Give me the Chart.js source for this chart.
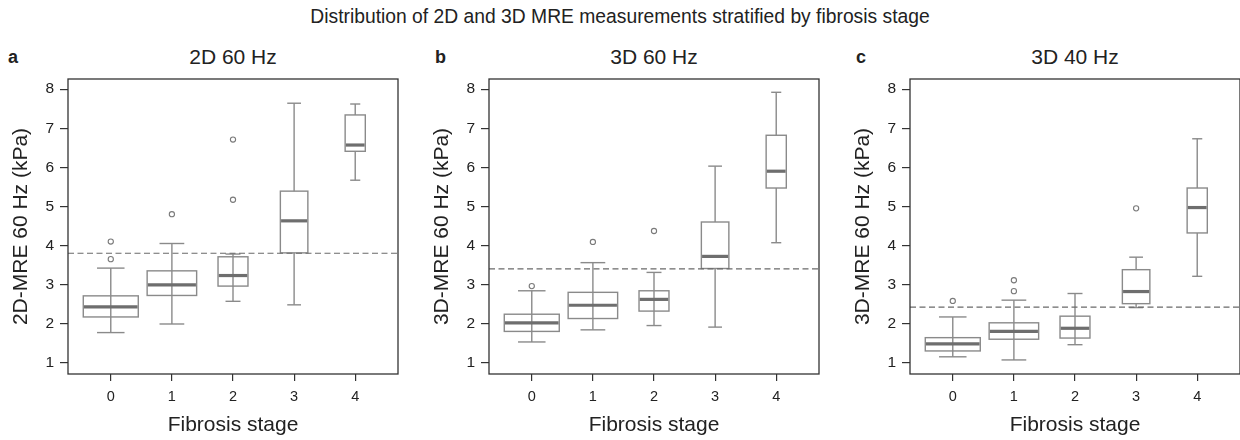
<!DOCTYPE html>
<html>
<head>
<meta charset="utf-8">
<script src="https://cdn.jsdelivr.net/npm/chart.js@4.4.1/dist/chart.umd.min.js"></script>
<style>
  html, body { margin:0; padding:0; width:1240px; height:440px; overflow:hidden; background:#fff;
    font-family:"Liberation Sans", Arial, Helvetica, sans-serif; color:#222; }
  #title { position:absolute; left:0; top:6px; width:1240px; text-align:center; font-size:19.3px; }
  .letter { position:absolute; top:47px; font-weight:bold; font-size:18px; }
  .ptitle { position:absolute; top:45px; width:330px; text-align:center; font-size:21px; }
  .wrap { position:absolute; top:40px; height:400px; }
</style>
</head>
<body>
<div id="title">Distribution of 2D and 3D MRE measurements stratified by fibrosis stage</div>
<div class="letter" style="left:8px">a</div>
<div class="letter" style="left:435px">b</div>
<div class="letter" style="left:856px">c</div>
<div class="ptitle" style="left:68px">2D 60 Hz</div>
<div class="ptitle" style="left:489px">3D 60 Hz</div>
<div class="ptitle" style="left:910px">3D 40 Hz</div>
<div class="wrap" style="left:0px"><canvas id="ca" width="420" height="400"></canvas></div>
<div class="wrap" style="left:421px"><canvas id="cb" width="420" height="400"></canvas></div>
<div class="wrap" style="left:842px"><canvas id="cc" width="420" height="400"></canvas></div>
<script>
// ---------- data ----------
const stages = ['0', '1', '2', '3', '4'];
const yTicks = [1, 2, 3, 4, 5, 6, 7, 8];

// Panel a: 2D 60 Hz
const a_min  = [1.77, 1.99, 2.57, 2.48, 5.67];
const a_q1   = [2.17, 2.72, 2.96, 3.81, 6.41];
const a_med  = [2.43, 2.99, 3.23, 4.63, 6.57];
const a_q3   = [2.71, 3.35, 3.71, 5.39, 7.34];
const a_max  = [3.42, 4.05, 3.78, 7.64, 7.62];
const a_out  = [[4.10, 3.65], [4.80], [6.71, 5.17], [], []];
const a_cut  = 3.8;

// Panel b: 3D 60 Hz
const b_min  = [1.53, 1.84, 1.95, 1.91, 4.07];
const b_q1   = [1.80, 2.13, 2.32, 3.41, 5.47];
const b_med  = [2.02, 2.47, 2.62, 3.72, 5.90];
const b_q3   = [2.24, 2.80, 2.84, 4.60, 6.82];
const b_max  = [2.84, 3.56, 3.31, 6.03, 7.92];
const b_out  = [[2.96], [4.09], [4.37], [], []];
const b_cut  = 3.4;

// Panel c: 3D 40 Hz
const c_min  = [1.15, 1.07, 1.46, 2.41, 3.21];
const c_q1   = [1.30, 1.60, 1.63, 2.51, 4.32];
const c_med  = [1.48, 1.80, 1.88, 2.82, 4.97];
const c_q3   = [1.64, 2.02, 2.19, 3.38, 5.47];
const c_max  = [2.17, 2.60, 2.77, 3.70, 6.73];
const c_out  = [[2.58], [3.11, 2.83], [], [4.95], []];
const c_cut  = 2.42;

// ---------- style ----------
const BOX_WIDTH = [0.9, 0.81, 0.49, 0.45, 0.33];     // in category units (varwidth)
const WHISKER_THROUGH = [true, true, true, false, false];
const X_MIN = -0.7, X_MAX = 4.7, Y_MIN = 0.71, Y_MAX = 8.26;
const FONT = '"Liberation Sans", Arial, Helvetica, sans-serif';
const TXT = '#222';
const BOX_COL = '#8a8a8a';
const MED_COL = '#6e6e6e';

function boxPlugin(p) {
  return {
    id: 'boxes',
    beforeDatasetsDraw(chart) {
      const { ctx, scales: { x, y }, chartArea } = chart;
      const unit = x.getPixelForValue(1) - x.getPixelForValue(0);
      ctx.save();
      ctx.beginPath();
      ctx.rect(chartArea.left, chartArea.top, chartArea.right - chartArea.left, chartArea.bottom - chartArea.top);
      ctx.clip();
      const line = (x1, y1, x2, y2) => { ctx.beginPath(); ctx.moveTo(x1, y1); ctx.lineTo(x2, y2); ctx.stroke(); };
      for (let i = 0; i < p.med.length; i++) {
        const cx = x.getPixelForValue(i);
        const hw = BOX_WIDTH[i] * unit / 2;
        const cw = hw * 0.5;
        const yMin = y.getPixelForValue(p.min[i]);
        const yQ1 = y.getPixelForValue(p.q1[i]);
        const yMed = y.getPixelForValue(p.med[i]);
        const yQ3 = y.getPixelForValue(p.q3[i]);
        const yMax = y.getPixelForValue(p.max[i]);
        ctx.strokeStyle = BOX_COL;
        ctx.lineWidth = 1.4;
        line(cx, yQ3, cx, yMax);
        line(cx, yQ1, cx, yMin);
        if (WHISKER_THROUGH[i]) line(cx, yQ3, cx, yQ1);
        line(cx - cw, yMax, cx + cw, yMax);
        line(cx - cw, yMin, cx + cw, yMin);
        ctx.strokeRect(cx - hw, yQ3, 2 * hw, yQ1 - yQ3);
        ctx.strokeStyle = MED_COL;
        ctx.lineWidth = 3.2;
        line(cx - hw + 0.7, yMed, cx + hw - 0.7, yMed);
      }
      ctx.restore();
    },
    afterDraw(chart) {
      const { ctx, chartArea: a } = chart;
      ctx.save();
      ctx.strokeStyle = '#333';
      ctx.lineWidth = 1.3;
      ctx.strokeRect(a.left, a.top, a.right - a.left, a.bottom - a.top);
      ctx.restore();
    }
  };
}

function makePanel(id, p) {
  const pts = [];
  p.out.forEach((arr, i) => arr.forEach(v => pts.push({ x: i, y: v })));
  new Chart(document.getElementById(id), {
    type: 'scatter',
    data: {
      datasets: [
        {
          type: 'line',
          data: [{ x: X_MIN, y: p.cut }, { x: X_MAX, y: p.cut }],
          borderColor: '#6a6a6a', borderWidth: 1.2, borderDash: [6, 3.5],
          pointRadius: 0, fill: false
        },
        {
          data: pts,
          pointRadius: 2.6, pointBorderWidth: 1.1,
          borderColor: '#7a7a7a', backgroundColor: '#fff', pointStyle: 'circle'
        }
      ]
    },
    options: {
      responsive: false,
      animation: false,
      events: [],
      layout: { padding: { left: 0, right: 22, top: 39, bottom: 0 } },
      plugins: { legend: { display: false }, tooltip: { enabled: false }, title: { display: false } },
      scales: {
        x: {
          type: 'linear', min: X_MIN, max: X_MAX,
          afterFit: s => { s.height = 66; },
          ticks: {
            stepSize: 1, includeBounds: false, autoSkip: false, maxRotation: 0,
            callback: v => (Number.isInteger(v) && stages[v] !== undefined) ? stages[v] : '',
            font: { size: 14.5, family: FONT }, color: TXT, padding: 7
          },
          grid: { drawOnChartArea: false, drawTicks: true, tickLength: 7, color: '#333', lineWidth: 1.2 },
          border: { display: false },
          title: { display: true, text: 'Fibrosis stage', font: { size: 21, family: FONT }, color: TXT, padding: { top: 0, bottom: 2 } }
        },
        y: {
          type: 'linear', min: Y_MIN, max: Y_MAX,
          afterFit: s => { s.width = 68; },
          afterBuildTicks: s => { s.ticks = yTicks.map(v => ({ value: v })); },
          ticks: { font: { size: 15.5, family: FONT }, color: TXT, padding: 6 },
          grid: { drawOnChartArea: false, drawTicks: true, tickLength: 8, color: '#333', lineWidth: 1.2 },
          border: { display: false },
          title: { display: true, text: p.ytitle, font: { size: 21, family: FONT }, color: TXT, padding: { top: 9, bottom: 0 } }
        }
      }
    },
    plugins: [boxPlugin(p)]
  });
}

makePanel('ca', { min: a_min, q1: a_q1, med: a_med, q3: a_q3, max: a_max, out: a_out, cut: a_cut, ytitle: '2D-MRE 60 Hz (kPa)' });
makePanel('cb', { min: b_min, q1: b_q1, med: b_med, q3: b_q3, max: b_max, out: b_out, cut: b_cut, ytitle: '3D-MRE 60 Hz (kPa)' });
makePanel('cc', { min: c_min, q1: c_q1, med: c_med, q3: c_q3, max: c_max, out: c_out, cut: c_cut, ytitle: '3D-MRE 60 Hz (kPa)' });
</script>
</body>
</html>
